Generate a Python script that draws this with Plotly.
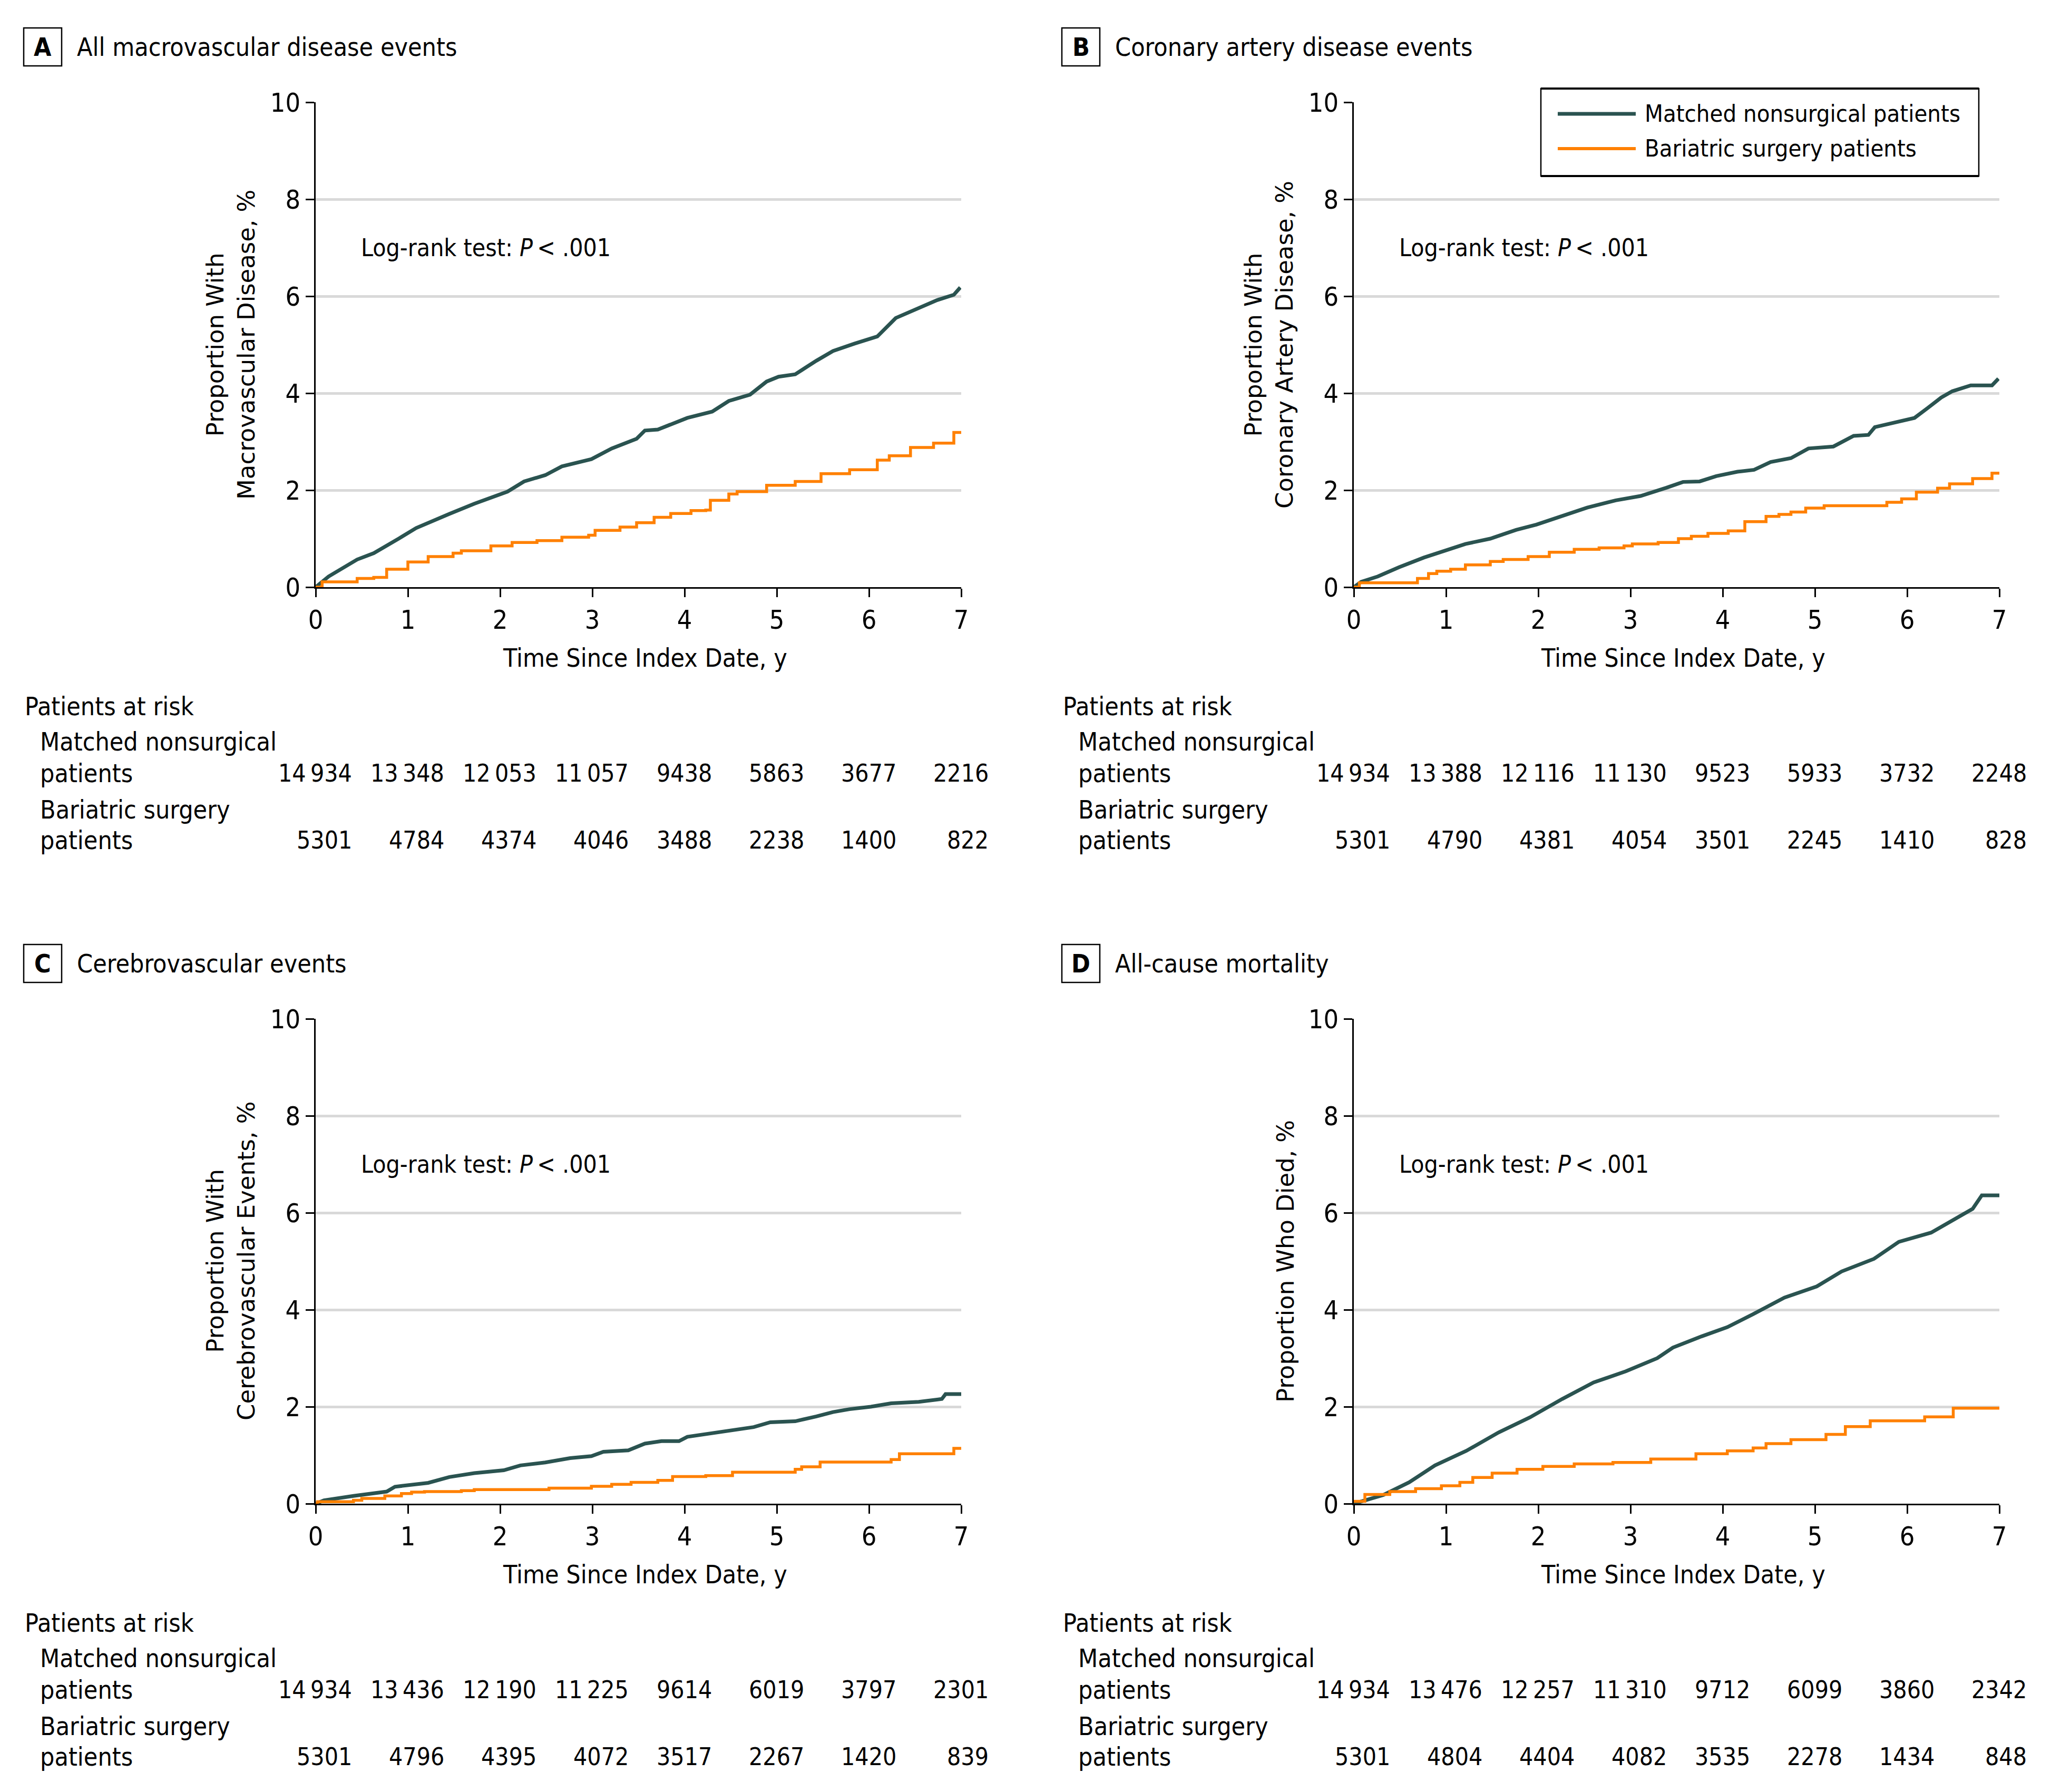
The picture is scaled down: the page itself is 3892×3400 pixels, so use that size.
import plotly.graph_objects as go

W, H = 3892, 3400
OFF = 8  # page body margin compensation (px)
DARK = "#2a5350"
ORANGE = "#ff8000"
TXT_FONT = "DejaVu Sans Condensed, Liberation Sans Narrow, Arial Narrow, sans-serif"
YT_FONT = "DejaVu Sans, Verdana, sans-serif"

# ---------------- data ----------------
panel_letters = ["A", "B", "C", "D"]
panel_titles = ["All macrovascular disease events", "Coronary artery disease events",
                "Cerebrovascular events", "All-cause mortality"]
y_titles = ["Proportion With<br>Macrovascular Disease, %",
            "Proportion With<br>Coronary Artery Disease, %",
            "Proportion With<br>Cerebrovascular Events, %",
            "Proportion Who Died, %"]
series_names = ["Matched nonsurgical patients", "Bariatric surgery patients"]

# Panel A
a_ctrl_t = [0, 0.14, 0.45, 0.63, 0.90, 1.09, 1.45, 1.72, 2.08, 2.26, 2.49, 2.67, 2.99, 3.21, 3.48, 3.57,
            3.71, 4.03, 4.30, 4.48, 4.71, 4.89, 5.02, 5.20, 5.43, 5.61, 5.84, 6.09, 6.29, 6.47, 6.74, 6.92, 6.99]
a_ctrl_y = [0, 0.22, 0.57, 0.70, 1.00, 1.22, 1.51, 1.72, 1.97, 2.18, 2.31, 2.49, 2.64, 2.86, 3.06, 3.23,
            3.25, 3.49, 3.62, 3.84, 3.97, 4.24, 4.34, 4.39, 4.67, 4.87, 5.02, 5.17, 5.55, 5.70, 5.92, 6.03, 6.18]
a_surg_t = [0, 0.07, 0.45, 0.63, 0.77, 1.00, 1.22, 1.49, 1.58, 1.90, 2.13, 2.40, 2.67, 2.96, 3.03, 3.30,
            3.48, 3.67, 3.85, 4.07, 4.23, 4.28, 4.48, 4.57, 4.89, 5.20, 5.48, 5.79, 6.09, 6.22, 6.45,
            6.70, 6.92, 7.0]
a_surg_y = [0, 0.11, 0.18, 0.20, 0.37, 0.52, 0.63, 0.70, 0.75, 0.85, 0.92, 0.96, 1.03, 1.07, 1.17, 1.24,
            1.33, 1.44, 1.52, 1.58, 1.59, 1.79, 1.92, 1.97, 2.10, 2.18, 2.34, 2.42, 2.62, 2.71, 2.88,
            2.97, 3.19, 3.19]

# Panel B
b_ctrl_t = [0, 0.08, 0.26, 0.49, 0.76, 0.99, 1.21, 1.48, 1.76, 1.98, 2.30, 2.53, 2.84, 3.11, 3.39, 3.57,
            3.75, 3.93, 4.16, 4.34, 4.52, 4.74, 4.93, 5.20, 5.42, 5.58, 5.65, 5.88, 6.08, 6.22, 6.37,
            6.49, 6.69, 6.92, 6.99]
b_ctrl_y = [0, 0.11, 0.22, 0.41, 0.61, 0.76, 0.89, 1.00, 1.18, 1.29, 1.49, 1.64, 1.79, 1.88, 2.05, 2.17,
            2.18, 2.29, 2.38, 2.42, 2.58, 2.66, 2.86, 2.90, 3.12, 3.14, 3.30, 3.41, 3.49, 3.69, 3.91,
            4.04, 4.16, 4.16, 4.30]
b_surg_t = [0, 0.06, 0.69, 0.81, 0.90, 1.05, 1.21, 1.48, 1.62, 1.89, 2.12, 2.39, 2.66, 2.93, 3.02, 3.30,
            3.52, 3.66, 3.84, 4.06, 4.24, 4.47, 4.61, 4.74, 4.90, 5.10, 5.78, 5.94, 6.10, 6.33, 6.46,
            6.71, 6.92, 7.0]
b_surg_y = [0, 0.09, 0.18, 0.28, 0.33, 0.37, 0.46, 0.53, 0.57, 0.63, 0.72, 0.78, 0.81, 0.85, 0.89, 0.92,
            1.00, 1.05, 1.11, 1.16, 1.35, 1.46, 1.50, 1.55, 1.63, 1.68, 1.75, 1.82, 1.96, 2.04, 2.13,
            2.24, 2.35, 2.35]

# Panel C
c_ctrl_t = [0, 0.09, 0.41, 0.77, 0.86, 1.22, 1.45, 1.72, 2.04, 2.22, 2.49, 2.76, 2.99, 3.12, 3.39, 3.57,
            3.75, 3.94, 4.03, 4.30, 4.52, 4.75, 4.93, 5.20, 5.43, 5.61, 5.79, 6.02, 6.24, 6.54, 6.79,
            6.83, 7.0]
c_ctrl_y = [0, 0.07, 0.16, 0.25, 0.35, 0.43, 0.55, 0.63, 0.69, 0.79, 0.85, 0.94, 0.98, 1.07, 1.10, 1.24,
            1.29, 1.29, 1.38, 1.45, 1.52, 1.58, 1.68, 1.70, 1.80, 1.89, 1.95, 2.00, 2.07, 2.10, 2.16,
            2.26, 2.26]
c_surg_t = [0, 0.02, 0.41, 0.50, 0.75, 0.93, 1.04, 1.18, 1.58, 1.72, 2.53, 2.99, 3.21, 3.42, 3.71, 3.87,
            4.23, 4.52, 5.20, 5.27, 5.47, 6.24, 6.33, 6.92, 7.0]
c_surg_y = [0, 0.04, 0.07, 0.11, 0.16, 0.21, 0.24, 0.25, 0.27, 0.29, 0.32, 0.36, 0.40, 0.44, 0.48, 0.56,
            0.58, 0.65, 0.71, 0.76, 0.86, 0.91, 1.03, 1.14, 1.14]

# Panel D
d_ctrl_t = [0, 0.32, 0.60, 0.88, 1.22, 1.57, 1.91, 2.26, 2.60, 2.95, 3.29, 3.46, 3.77, 4.05, 4.33, 4.67,
            5.02, 5.29, 5.64, 5.91, 6.26, 6.54, 6.71, 6.81, 7.0]
d_ctrl_y = [0, 0.18, 0.44, 0.79, 1.09, 1.47, 1.78, 2.16, 2.50, 2.73, 3.00, 3.22, 3.45, 3.64, 3.91, 4.25,
            4.48, 4.79, 5.05, 5.40, 5.59, 5.89, 6.08, 6.36, 6.36]
d_surg_t = [0, 0.12, 0.39, 0.67, 0.95, 1.15, 1.29, 1.50, 1.77, 2.05, 2.39, 2.81, 3.22, 3.71, 4.05, 4.33,
            4.47, 4.74, 5.12, 5.33, 5.60, 6.19, 6.50, 7.0]
d_surg_y = [0.05, 0.19, 0.25, 0.31, 0.37, 0.44, 0.54, 0.63, 0.71, 0.77, 0.82, 0.85, 0.92, 1.03, 1.09, 1.15,
            1.24, 1.32, 1.43, 1.59, 1.71, 1.79, 1.97, 1.97]

risk_times = [0, 1, 2, 3, 4, 5, 6, 7]
a_risk_ctrl = [14934, 13348, 12053, 11057, 9438, 5863, 3677, 2216]
a_risk_surg = [5301, 4784, 4374, 4046, 3488, 2238, 1400, 822]
b_risk_ctrl = [14934, 13388, 12116, 11130, 9523, 5933, 3732, 2248]
b_risk_surg = [5301, 4790, 4381, 4054, 3501, 2245, 1410, 828]
c_risk_ctrl = [14934, 13436, 12190, 11225, 9614, 6019, 3797, 2301]
c_risk_surg = [5301, 4796, 4395, 4072, 3517, 2267, 1420, 839]
d_risk_ctrl = [14934, 13476, 12257, 11310, 9712, 6099, 3860, 2342]
d_risk_surg = [5301, 4804, 4404, 4082, 3535, 2278, 1434, 848]

y_ticks = [0, 2, 4, 6, 8, 10]
x_ticks = [0, 1, 2, 3, 4, 5, 6, 7]

panels = [
    (a_ctrl_t, a_ctrl_y, a_surg_t, a_surg_y, a_risk_ctrl, a_risk_surg),
    (b_ctrl_t, b_ctrl_y, b_surg_t, b_surg_y, b_risk_ctrl, b_risk_surg),
    (c_ctrl_t, c_ctrl_y, c_surg_t, c_surg_y, c_risk_ctrl, c_risk_surg),
    (d_ctrl_t, d_ctrl_y, d_surg_t, d_surg_y, d_risk_ctrl, d_risk_surg),
]

# ---------------- layout helpers ----------------
def px(x):
    return (x - OFF) / W


def py(y):
    return 1 - (y - OFF) / H


def fmt(n):
    s = str(n)
    if n >= 10000:
        s = s[:-3] + "\u2009" + s[-3:]
    return s


fig = go.Figure()
annotations = []
shapes = []
layout_axes = {}
series_colors = [DARK, ORANGE]

for i, (ct, cy, st, sy, rc, rs) in enumerate(panels):
    col, row = i % 2, i // 2
    dx = col * 1970
    dy = row * 1739
    ax = "" if i == 0 else str(i + 1)
    xa, ya = "x" + ax, "y" + ax

    fig.add_trace(go.Scatter(x=ct, y=cy, mode="lines", name=series_names[0],
                             line=dict(color=DARK, width=7), xaxis=xa, yaxis=ya,
                             showlegend=False))
    fig.add_trace(go.Scatter(x=st, y=sy, mode="lines", name=series_names[1],
                             line=dict(color=ORANGE, width=5.5, shape="hv"), xaxis=xa, yaxis=ya,
                             showlegend=False))

    x0, x1 = 599 + dx, 1824 + dx
    ytop, ybot = 194 + dy, 1114 + dy
    common = dict(showline=True, linecolor="black", linewidth=3, ticks="outside",
                  ticklen=16, tickwidth=3, tickcolor="black", zeroline=False,
                  automargin=False,
                  tickfont=dict(family=TXT_FONT, size=50, color="black"), fixedrange=True)
    layout_axes["xaxis" + ax] = dict(domain=[px(x0), px(x1)], range=[0, 7], tickvals=x_ticks,
                                     showgrid=False, anchor=ya, **common)
    layout_axes["yaxis" + ax] = dict(domain=[py(ybot), py(ytop)], range=[0, 10], tickvals=y_ticks,
                                     showgrid=True, gridcolor="#d9d9d9", gridwidth=5,
                                     anchor=xa, **common)

    # panel label box & title
    shapes.append(dict(type="rect", xref="paper", yref="paper",
                       x0=px(45 + dx), x1=px(117 + dx), y0=py(125 + dy), y1=py(53 + dy),
                       line=dict(color="black", width=2.5)))
    annotations.append(dict(xref="paper", yref="paper", x=px(81 + dx), y=py(89 + dy),
                            text="<b>%s</b>" % panel_letters[i], showarrow=False,
                            xanchor="center", yanchor="middle",
                            font=dict(family=TXT_FONT, size=48, color="black")))
    annotations.append(dict(xref="paper", yref="paper", x=px(144 + dx), y=py(89 + dy),
                            text=panel_titles[i], showarrow=False,
                            xanchor="left", yanchor="middle",
                            font=dict(family=TXT_FONT, size=48, color="black")))

    # y-axis title
    two_lines = "<br>" in y_titles[i]
    annotations.append(dict(xref="paper", yref="paper",
                            x=px(x0 - (161 if two_lines else 130)), y=py((ytop + ybot) / 2),
                            text=y_titles[i], showarrow=False, textangle=-90,
                            xanchor="center", yanchor="middle",
                            font=dict(family=YT_FONT, size=45, color="black")))
    # x-axis title
    annotations.append(dict(xref="paper", yref="paper", x=px(1224 + dx), y=py(1248 + dy),
                            text="Time Since Index Date, y", showarrow=False,
                            xanchor="center", yanchor="middle",
                            font=dict(family=TXT_FONT, size=48, color="black")))
    # log-rank
    annotations.append(dict(xref=xa, yref=ya, x=0.48, y=7.0,
                            text="Log-rank test: <i>P</i>\u2009&lt; .001", showarrow=False,
                            xanchor="left", yanchor="middle",
                            font=dict(family=TXT_FONT, size=46, color="black")))

    # risk table
    lab_font = dict(family=TXT_FONT, size=48, color="black")
    num_font = dict(family=TXT_FONT, size=46, color="black")
    annotations.append(dict(xref="paper", yref="paper", x=px(45 + dx), y=py(1340 + dy),
                            text="Patients at risk", showarrow=False, xanchor="left",
                            yanchor="middle", font=lab_font))
    for txt, yy in [("Matched nonsurgical", 1407), ("patients", 1467),
                    ("Bariatric surgery", 1536), ("patients", 1594)]:
        annotations.append(dict(xref="paper", yref="paper", x=px(74 + dx), y=py(yy + dy),
                                text=txt, showarrow=False, xanchor="left",
                                yanchor="middle", font=lab_font))
    for t, nc, ns in zip(risk_times, rc, rs):
        widest = max(len(str(nc)), len(str(ns)))
        half = (27 * widest + (6 if widest >= 5 else 0)) / 2
        for n, yy in [(nc, 1467), (ns, 1594)]:
            annotations.append(dict(xref=xa, yref="paper", x=t, y=py(yy + dy),
                                    text=fmt(n), showarrow=False, xanchor="right",
                                    yanchor="middle", xshift=half, font=num_font))

# ---- legend (panel B), drawn as a boxed key ----
shapes.append(dict(type="rect", xref="paper", yref="paper", layer="above",
                   x0=px(2924), x1=px(3755), y0=py(334), y1=py(168),
                   fillcolor="white", line=dict(color="black", width=2.5)))
for yy in (168, 334):
    shapes.append(dict(type="line", xref="paper", yref="paper", layer="above",
                       x0=px(2924), x1=px(3755), y0=py(yy), y1=py(yy),
                       line=dict(color="black", width=4)))
for k, yy in enumerate((216, 282)):
    shapes.append(dict(type="line", xref="paper", yref="paper", layer="above",
                       x0=px(2956), x1=px(3104), y0=py(yy), y1=py(yy),
                       line=dict(color=series_colors[k], width=7 if k == 0 else 6)))
    annotations.append(dict(xref="paper", yref="paper", x=px(3119), y=py(yy),
                            text=series_names[k], showarrow=False, xanchor="left",
                            yanchor="middle", font=dict(family=TXT_FONT, size=45, color="black")))

fig.update_layout(
    width=W, height=H, margin=dict(l=0, r=0, t=0, b=0, autoexpand=False),
    paper_bgcolor="white", plot_bgcolor="white",
    font=dict(family=TXT_FONT, color="black"),
    annotations=annotations, shapes=shapes,
    showlegend=False,
    **layout_axes,
)

fig.write_html("out.html")
